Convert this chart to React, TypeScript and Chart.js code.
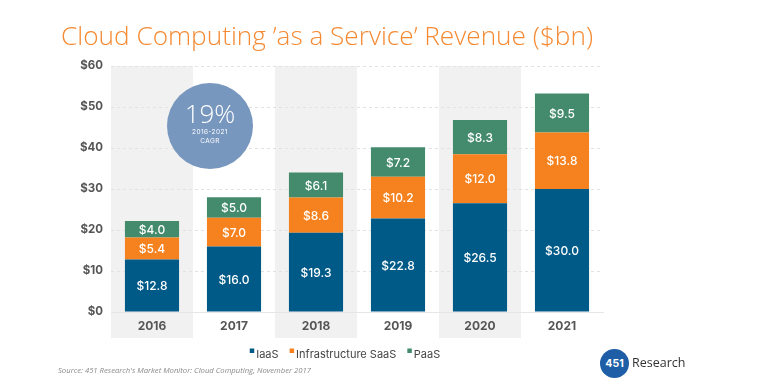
import React, { useEffect, useRef } from "react";
import { Chart, registerables } from "chart.js";

Chart.register(...registerables);

const categories = ["2016", "2017", "2018", "2019", "2020", "2021"];
const iaasValues = [12.8, 16.0, 19.3, 22.8, 26.5, 30.0];
const saasValues = [5.4, 7.0, 8.6, 10.2, 12.0, 13.8];
const paasValues = [4.0, 5.0, 6.1, 7.2, 8.3, 9.5];
const seriesLabels = ["IaaS", "Infrastructure SaaS", "PaaS"];
const seriesColors = ["#005a87", "#f5821f", "#438b6c"];
const yMax = 60;
const yStep = 10;

const FONT = "Inter, 'DejaVu Sans', sans-serif";

const bandsPlugin = {
  id: "bands",
  beforeDraw(chart: any) {
    const { ctx, chartArea, scales } = chart;
    const x = scales.x;
    const w = x.getPixelForValue(1) - x.getPixelForValue(0);
    ctx.save();
    ctx.fillStyle = "#f1f1f1";
    categories.forEach((_, i) => {
      if (i % 2 === 0) {
        const cx = x.getPixelForValue(i);
        ctx.fillRect(cx - w / 2, chartArea.top, w, chartArea.bottom + 26 - chartArea.top);
      }
    });
    ctx.restore();
  },
};

const labelsPlugin = {
  id: "segLabels",
  afterDatasetsDraw(chart: any) {
    const { ctx } = chart;
    ctx.save();
    ctx.fillStyle = "#ffffff";
    ctx.font = `500 12px ${FONT}`;
    ctx.textAlign = "center";
    ctx.textBaseline = "middle";
    chart.data.datasets.forEach((ds: any, di: number) => {
      const meta = chart.getDatasetMeta(di);
      meta.data.forEach((el: any, i: number) => {
        const v = ds.data[i];
        ctx.fillText(`$${v.toFixed(1)}`, el.x, (el.y + el.base) / 2 + 1);
      });
    });
    ctx.restore();
  },
};

const legendPlugin = {
  id: "customLegend",
  afterDraw(chart: any) {
    const { ctx } = chart;
    ctx.save();
    ctx.font = `400 11px ${FONT}`;
    ctx.textBaseline = "middle";
    const box = 4.5;
    const gapBox = 2;
    const gapItem = 11;
    const widths = seriesLabels.map((l) => box + gapBox + ctx.measureText(l).width);
    const total = widths.reduce((a, b) => a + b, 0) + gapItem * (seriesLabels.length - 1);
    let x = 345 - total / 2;
    const y = 354.5;
    seriesLabels.forEach((l, i) => {
      ctx.fillStyle = seriesColors[i];
      ctx.fillRect(x, y - 6, box, box);
      ctx.fillStyle = "#444444";
      ctx.fillText(l, x + box + gapBox, y);
      x += widths[i] + gapItem;
    });
    ctx.restore();
  },
};

export default function App() {
  const canvasRef = useRef<HTMLCanvasElement | null>(null);

  useEffect(() => {
    if (!canvasRef.current) return;
    const chart = new Chart(canvasRef.current, {
      type: "bar",
      data: {
        labels: categories,
        datasets: [
          { label: seriesLabels[0], data: iaasValues, backgroundColor: seriesColors[0] },
          { label: seriesLabels[1], data: saasValues, backgroundColor: seriesColors[1] },
          { label: seriesLabels[2], data: paasValues, backgroundColor: seriesColors[2] },
        ],
      },
      options: {
        animation: false,
        responsive: true,
        maintainAspectRatio: false,
        layout: { padding: { left: 60, right: 160, top: 66, bottom: 52 } },
        datasets: { bar: { categoryPercentage: 1, barPercentage: 0.66, borderWidth: 0 } },
        plugins: { legend: { display: false }, tooltip: { enabled: false }, title: { display: false } },
        scales: {
          x: {
            stacked: true,
            grid: { display: false, drawTicks: false },
            border: { display: true, color: "#e6e6e6", width: 1 },
            ticks: { padding: 7, color: "#555555", font: { family: FONT, size: 12, weight: "bold" } },
            afterFit(scale: any) {
              scale.height = 26;
            },
          },
          y: {
            stacked: true,
            min: 0,
            max: yMax,
            grid: { color: "#e2e2e2", drawTicks: false, lineWidth: 1 },
            border: { display: false, dash: [3, 3] },
            ticks: {
              stepSize: yStep,
              padding: 8,
              color: "#555555",
              font: { family: FONT, size: 11.5, weight: "bold" },
              callback: (v: any) => `$${v}`,
            },
            afterFit(scale: any) {
              scale.width = 51;
            },
          },
        },
      },
      plugins: [bandsPlugin, labelsPlugin, legendPlugin],
    });
    return () => chart.destroy();
  }, []);

  return (
    <div style={{ position: "fixed", left: 0, top: 0, width: 763, height: 390, background: "#fff", overflow: "hidden" }}>
      <canvas ref={canvasRef} />
      <div
        style={{
          position: "absolute",
          left: 61,
          top: 17,
          fontFamily: "'Open Sans', sans-serif",
          fontWeight: 300,
          fontSize: 26.2,
          color: "#f58a33",
          whiteSpace: "nowrap",
          lineHeight: "36px",
        }}
      >
        Cloud Computing ’as a Service’ Revenue ($bn)
      </div>
      <div
        style={{
          position: "absolute",
          left: 167,
          top: 83,
          width: 86,
          height: 86,
          borderRadius: "50%",
          background: "#7897bf",
          color: "#fff",
          textAlign: "center",
          fontFamily: "'Open Sans', sans-serif",
        }}
      >
        <div style={{ fontSize: 26, fontWeight: 300, marginTop: 17, lineHeight: "27px" }}>19%</div>
        <div style={{ fontSize: 6.5, lineHeight: "9px", marginTop: 1, letterSpacing: 0.4, fontFamily: FONT }}>2016-2021</div>
        <div style={{ fontSize: 6.5, lineHeight: "9px", letterSpacing: 0.4, fontFamily: FONT }}>CAGR</div>
      </div>
      <div
        style={{
          position: "absolute",
          left: 58,
          top: 365,
          fontFamily: "'Open Sans', sans-serif",
          fontStyle: "italic",
          fontSize: 7.7,
          color: "#8a8a8a",
          whiteSpace: "nowrap",
        }}
      >
        Source: 451 Research's Market Monitor: Cloud Computing, November 2017
      </div>
      <div
        style={{
          position: "absolute",
          left: 600,
          top: 349,
          width: 29,
          height: 29,
          borderRadius: "50%",
          background: "#1d5ea6",
          color: "#fff",
          fontFamily: FONT,
          fontWeight: 700,
          fontSize: 10.5,
          lineHeight: "29px",
          textAlign: "center",
        }}
      >
        451
      </div>
      <div
        style={{
          position: "absolute",
          left: 632,
          top: 355,
          fontFamily: "'Open Sans', sans-serif",
          fontSize: 12.5,
          color: "#333",
          lineHeight: "16px",
          whiteSpace: "nowrap",
        }}
      >
        Research
      </div>
    </div>
  );
}
